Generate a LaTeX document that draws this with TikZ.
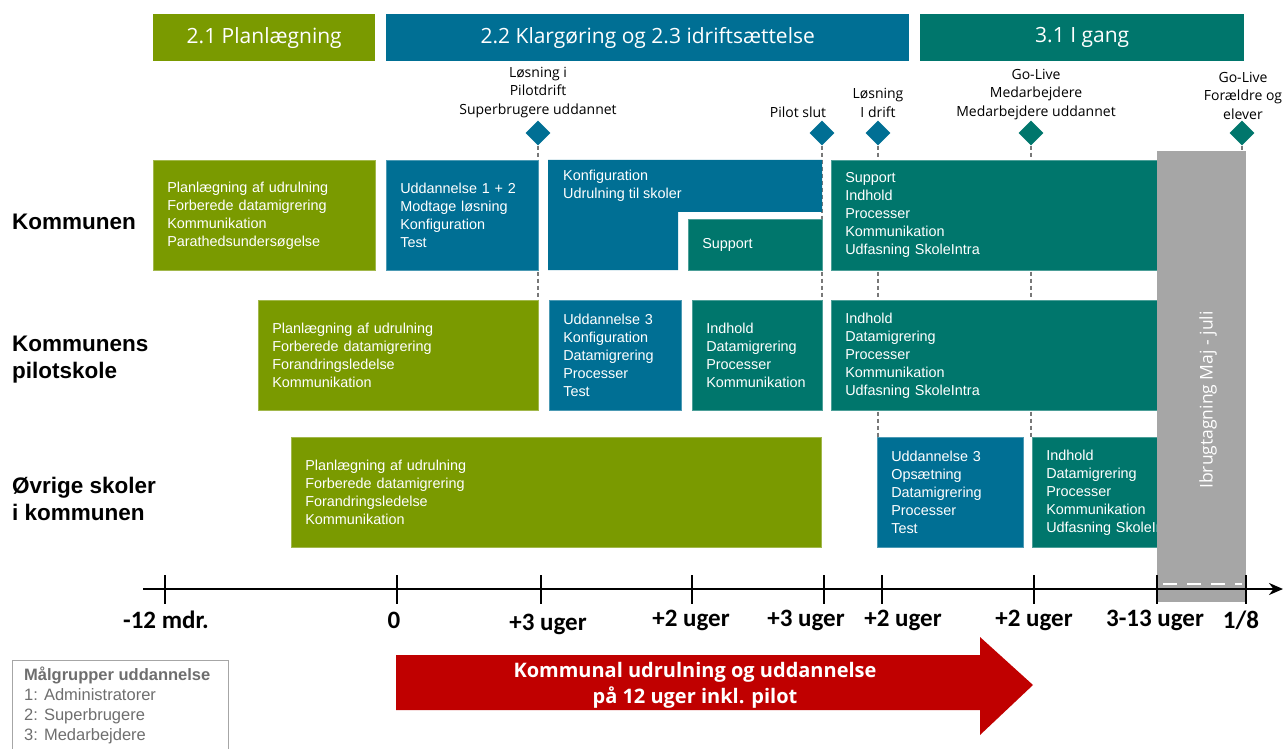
\documentclass[tikz,border=0pt]{standalone}
\usepackage{fontspec}
\setmainfont{Liberation Sans}
\newfontfamily\hfont{Open Sans}
\newfontfamily\cfont{Carlito}
\usetikzlibrary{shapes.geometric,arrows.meta}

\definecolor{pgreen}{RGB}{122,154,0}
\definecolor{pblue}{RGB}{0,111,148}
\definecolor{pteal}{RGB}{0,118,108}
\definecolor{pgrey}{RGB}{166,166,166}
\definecolor{pred}{RGB}{192,0,0}
\definecolor{dashgrey}{RGB}{120,120,120}
\definecolor{legendgrey}{RGB}{110,110,110}

% task box: name, x, y (top left), width, height, colour, text
\newcommand\taskbox[7]{%
  \pgfmathsetmacro\tbw{#4-28}%
  \node[task, fill=#6, draw=#6!70!white, text width=\tbw pt, minimum height=#5pt] (#1) at (#2,#3) {#7};}

\begin{document}
\begin{tikzpicture}[x=1pt,y=-1pt,
  phase/.style={anchor=north west, inner sep=0pt, text=white, minimum height=47pt,
    font=\hfont\fontsize{21}{24}\selectfont},
  task/.style={anchor=north west, inner xsep=14pt, inner ysep=0pt, align=left, text=white,
    line width=0.6pt, font=\fontsize{14.4}{18}\selectfont},
  mile/.style={diamond, minimum size=25pt, inner sep=0pt},
  miletext/.style={align=center, font=\hfont\fontsize{14}{18.5}\selectfont},
  rowlabel/.style={anchor=west, align=left, inner sep=0pt, font=\bfseries\fontsize{22.5}{27}\selectfont},
  guide/.style={dashgrey, line width=1.3pt, dash pattern=on 4pt off 3pt},
  axislabel/.style={font=\cfont\bfseries\fontsize{25}{27}\selectfont},
]
\useasboundingbox (0,0) rectangle (1286,749);

% phase headers
\node[phase, fill=pgreen, minimum width=222pt] (ph1) at (153,14) {2.1 Planlægning};
\node[phase, fill=pblue, minimum width=523pt] (ph2) at (386,14) {2.2 Klargøring og 2.3 idriftsættelse};
\node[phase, fill=pteal, minimum width=324pt] (ph3) at (920,14) {3.1 I gang};

% milestones
\node[mile, fill=pblue] (m1) at (538,133) {};
\node[mile, fill=pblue] (m2) at (822,133) {};
\node[mile, fill=pblue] (m3) at (878,133) {};
\node[mile, fill=pteal] (m4) at (1031,133) {};
\node[mile, fill=pteal] (m5) at (1242,133) {};
\node[miletext, anchor=south] (m1t) at (538,121) {Løsning i\\Pilotdrift\\Superbrugere uddannet};
\node[miletext, anchor=south] (m2t) at (798,121) {Pilot slut};
\node[miletext, anchor=south] (m3t) at (878,121) {Løsning\\I drift};
\node[miletext, anchor=south] (m4t) at (1036,123) {Go-Live\\Medarbejdere\\Medarbejdere uddannet};
\node[miletext, anchor=south] (m5t) at (1243,123) {Go-Live\\Forældre og\\elever};

% guide lines from the milestones down through the rows
\coordinate (r2top) at (0,300);
\coordinate (r3top) at (0,437);
\coordinate (gtop) at (0,151);
\draw[guide] (m1.south) -- (m1.south |- r2top);
\draw[guide] (m2.south) -- (m2.south |- r2top);
\draw[guide] (m3.south) -- (m3.south |- r3top);
\draw[guide] (m4.south) -- (m4.south |- r3top);
\draw[guide] (m5.south) -- (m5.south |- gtop);

% row labels
\node[rowlabel] (l1) at (12,222) {Kommunen};
\node[rowlabel] (l2) at (12,360) {Kommunens\\pilotskole};
\node[rowlabel] (l3) at (12,499) {Øvrige skoler\\i kommunen};

% row 1: Kommunen
\taskbox{k1}{153}{160}{222}{110}{pgreen}{Planlægning af udrulning\\Forberede datamigrering\\Kommunikation\\Parathedsundersøgelse}
\taskbox{k2}{386}{160}{152}{110}{pblue}{Uddannelse 1 + 2\\Modtage løsning\\Konfiguration\\Test}
\fill[pblue] (548,160) -- (822,160) -- (822,212) -- (678,212) -- (678,270) -- (548,270) -- cycle;
\node[anchor=north west, align=left, text=white, inner sep=0pt, font=\fontsize{14.4}{18}\selectfont] (k3) at (563,170) {Konfiguration\\Udrulning til skoler};
\taskbox{k4}{688}{219}{134}{51}{pteal}{Support}
\taskbox{k5}{831}{160}{330}{110}{pteal}{Support\\Indhold\\Processer\\Kommunikation\\Udfasning SkoleIntra}

% row 2: pilot school
\taskbox{p1}{258}{300}{280}{110}{pgreen}{Planlægning af udrulning\\Forberede datamigrering\\Forandringsledelse\\Kommunikation}
\taskbox{p2}{549}{300}{132}{110}{pblue}{Uddannelse 3\\Konfiguration\\Datamigrering\\Processer\\Test}
\taskbox{p3}{692}{300}{130}{110}{pteal}{Indhold\\Datamigrering\\Processer\\Kommunikation}
\taskbox{p4}{831}{300}{330}{110}{pteal}{Indhold\\Datamigrering\\Processer\\Kommunikation\\Udfasning SkoleIntra}

% row 3: other schools
\taskbox{o1}{291}{437}{530}{110}{pgreen}{Planlægning af udrulning\\Forberede datamigrering\\Forandringsledelse\\Kommunikation}
\taskbox{o2}{877}{437}{146}{110}{pblue}{Uddannelse 3\\Opsætning\\Datamigrering\\Processer\\Test}
\taskbox{o3}{1032}{437}{200}{110}{pteal}{Indhold\\Datamigrering\\Processer\\Kommunikation\\Udfasning SkoleIntra}

% go-live period
\node[fill=pgrey, anchor=north west, minimum width=89pt, minimum height=451pt, inner sep=0pt] (golive) at (1157,151) {};
\node[rotate=90, text=white, font=\hfont\fontsize{17.5}{20}\selectfont] (golivet) at (1208,400) {Ibrugtagning Maj - juli};

% time axis
\coordinate (ax0) at (143,589);
\coordinate (ax1) at (1283,589);
\draw[line width=2.6pt, -{Stealth[length=14pt,width=12pt]}] (ax0) -- (ax1);
\draw[white, line width=2pt, dash pattern=on 14pt off 10pt] (1163,584) -- (1242,584);
\foreach \tx in {165,397,541,692,824,882,1034,1157,1246}
  \draw[line width=2.6pt] (\tx,575) -- (\tx,604);
\node[axislabel] (a1) at (166,620) {-12 mdr.};
\node[axislabel] (a2) at (394,620) {0};
\node[axislabel] (a3) at (548,624) {+3 uger};
\node[axislabel] (a4) at (691,620) {+2 uger};
\node[axislabel] (a5) at (806,620) {+3 uger};
\node[axislabel] (a6) at (903,620) {+2 uger};
\node[axislabel] (a7) at (1034,620) {+2 uger};
\node[axislabel] (a8) at (1155,620) {3-13 uger};
\node[axislabel] (a9) at (1241,620) {1/8};

% rollout arrow
\fill[pred] (396,655) -- (980,655) -- (980,637) -- (1033,685) -- (980,735) -- (980,710) -- (396,710) -- cycle;
\node[align=center, text=white, font=\hfont\bfseries\fontsize{20}{26}\selectfont] (arrowt) at (695,685) {Kommunal udrulning og uddannelse\\på 12 uger inkl. pilot};

% legend
\node[draw=pgrey, line width=1pt, anchor=north west, minimum width=216pt, minimum height=100pt, inner sep=0pt] (legend) at (12,660) {};
\node[anchor=north west, align=left, inner sep=0pt, text=legendgrey, font=\fontsize{16.5}{20}\selectfont] (legendt) at (24,667) {\textbf{Målgrupper uddannelse}\\1: Administratorer\\2: Superbrugere\\3: Medarbejdere};
\end{tikzpicture}
\end{document}
